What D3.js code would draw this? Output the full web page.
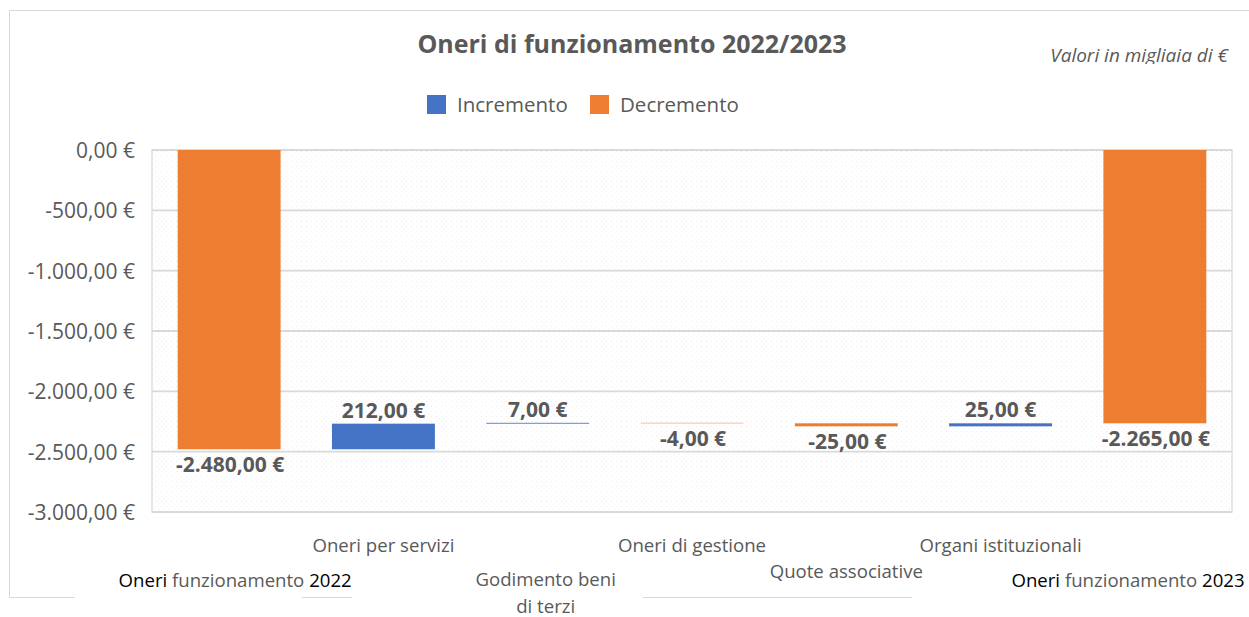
<!DOCTYPE html>
<html>
<head>
<meta charset="utf-8">
<script src="https://cdn.jsdelivr.net/npm/d3@7"></script>
<style>
  html, body { margin: 0; padding: 0; background: #fff; }
  svg { display: block; }
  text { font-family: "Open Sans", sans-serif; }
</style>
</head>
<body>
<script>
// ---- data ----
const categories = ["Oneri funzionamento 2022", "Oneri per servizi", "Godimento beni di terzi", "Oneri di gestione", "Quote associative", "Organi istituzionali", "Oneri funzionamento 2023"];
const changes = [-2480, 212, 7, -4, -25, 25, -2265];
const isTotal = [true, false, false, false, false, false, true];
const yTicks = [0, -500, -1000, -1500, -2000, -2500, -3000];
const legendLabels = ["Incremento", "Decremento"];
const titleText = "Oneri di funzionamento 2022/2023";
const noteText = "Valori in migliaia di €";

const W = 1249, H = 617;
const colors = { up: "#4472C4", down: "#ED7D31" };
const textGrey = "#595959";

const locale = d3.formatLocale({ decimal: ",", thousands: ".", grouping: [3], currency: ["", " €"], minus: "-" });
const fmt = locale.format("$,.2f");

const svg = d3.select("body").append("svg").attr("width", W).attr("height", H);

// pattern
const defs = svg.append("defs");
const pat = defs.append("pattern").attr("id", "dots").attr("width", 5).attr("height", 5).attr("patternUnits", "userSpaceOnUse");
pat.append("rect").attr("width", 5).attr("height", 5).attr("fill", "#ffffff");
pat.append("rect").attr("x", 1).attr("y", 1).attr("width", 1).attr("height", 1).attr("fill", "#ececec");
pat.append("rect").attr("x", 3.5).attr("y", 3.5).attr("width", 1).attr("height", 1).attr("fill", "#f2f2f2");

// outer frame
svg.append("rect").attr("x", 9.5).attr("y", 10.5).attr("width", 1260).attr("height", 587)
  .attr("fill", "#fff").attr("stroke", "#d9d9d9").attr("stroke-width", 1);

const plot = { left: 152, right: 1232, top: 150, bottom: 512 };

const x = d3.scaleBand().domain(categories).range([plot.left, plot.right]).paddingInner(0.333).paddingOuter(0.1665);
const y = d3.scaleLinear().domain([-3000, 0]).range([plot.bottom, plot.top]);

// plot background
svg.append("rect").attr("x", plot.left).attr("y", plot.top).attr("width", plot.right - plot.left).attr("height", plot.bottom - plot.top)
  .attr("fill", "url(#dots)").attr("stroke", "#e0e0e0").attr("stroke-width", 1.5);

// gridlines
svg.append("g").selectAll("line").data(yTicks).join("line")
  .attr("x1", plot.left).attr("x2", plot.right)
  .attr("y1", d => y(d)).attr("y2", d => y(d))
  .attr("stroke", "#d9d9d9").attr("stroke-width", 1.8);

// y axis
const yAxis = d3.axisLeft(y).tickValues(yTicks).tickFormat(fmt).tickSize(0).tickPadding(0);
const yg = svg.append("g").attr("transform", `translate(${plot.left - 17},0)`).call(yAxis);
yg.select(".domain").remove();
yg.selectAll("text").attr("fill", textGrey).style("font-size", "21px").style("font-family", "Open Sans").attr("dy", "0.35em");

// waterfall computation
let running = 0;
const bars = categories.map((c, i) => {
  let y0, y1;
  if (isTotal[i]) { y0 = 0; y1 = changes[i]; running = changes[i]; }
  else { y0 = running; y1 = running + changes[i]; running = y1; }
  return { cat: c, v: changes[i], y0, y1, color: changes[i] >= 0 && !isTotal[i] ? colors.up : colors.down };
});

svg.append("g").selectAll("rect").data(bars).join("rect")
  .attr("x", d => x(d.cat))
  .attr("width", x.bandwidth())
  .attr("y", d => y(Math.max(d.y0, d.y1)))
  .attr("height", d => Math.abs(y(d.y0) - y(d.y1)))
  .attr("fill", d => d.color);

// data labels
svg.append("g").selectAll("text").data(bars).join("text")
  .attr("x", d => x(d.cat) + x.bandwidth() / 2 + (d.v < 0 ? 1 : 0))
  .attr("y", d => d.v >= 0 ? y(Math.max(d.y0, d.y1)) - 6 : y(Math.min(d.y0, d.y1)) + 23)
  .attr("text-anchor", "middle")
  .attr("fill", textGrey)
  .style("font-size", "21px").style("font-weight", "bold")
  .text(d => fmt(d.v));

// title
svg.append("text").attr("x", 632).attr("y", 53).attr("text-anchor", "middle")
  .attr("fill", textGrey).style("font-size", "25px").style("font-weight", "bold").text(titleText);

// note (clipped at bottom)
defs.append("clipPath").attr("id", "noteClip").append("rect").attr("x", 1000).attr("y", 30).attr("width", 249).attr("height", 34);
svg.append("text").attr("x", 1228).attr("y", 62).attr("text-anchor", "end").attr("clip-path", "url(#noteClip)")
  .attr("fill", textGrey).style("font-size", "19px").style("font-style", "italic").text(noteText);

// legend
const legend = svg.append("g");
const legendX = [427, 590];
legendLabels.forEach((l, i) => {
  legend.append("rect").attr("x", legendX[i]).attr("y", 95).attr("width", 19).attr("height", 19)
    .attr("fill", i === 0 ? colors.up : colors.down);
  legend.append("text").attr("x", legendX[i] + 30).attr("y", 112).attr("fill", textGrey)
    .style("font-size", "20.5px").text(l);
});

// white masks over frame bottom
const masks = [[75, 302], [352, 643], [912, 1249]];
svg.append("g").selectAll("rect").data(masks).join("rect")
  .attr("x", d => d[0]).attr("y", 594).attr("width", d => d[1] - d[0]).attr("height", 6).attr("fill", "#fff");

// category labels (staggered)
const labelPos = [
  { dy: 587, lines: null },
  { dy: 552 },
  { dy: 586, lines: ["Godimento beni", "di terzi"] },
  { dy: 552 },
  { dy: 578 },
  { dy: 552 },
  { dy: 587, lines: null }
];
const xl = svg.append("g");
categories.forEach((c, i) => {
  let cx = x(c) + x.bandwidth() / 2;
  if (i === 0) cx += 6;
  if (i === 2) cx += 8;
  if (i === 6) cx = 1128;
  const t = xl.append("text").attr("x", cx).attr("y", labelPos[i].dy).attr("text-anchor", "middle")
    .attr("fill", textGrey).style("font-size", "18.6px");
  if (isTotal[i]) {
    const parts = c.split(" ");
    t.append("tspan").attr("fill", "#000").text(parts[0] + " ");
    t.append("tspan").attr("fill", textGrey).text(parts[1] + " ");
    t.append("tspan").attr("fill", "#000").text(parts[2]);
  } else if (labelPos[i].lines) {
    labelPos[i].lines.forEach((ln, k) => {
      t.append("tspan").attr("x", cx).attr("dy", k === 0 ? 0 : 27).text(ln);
    });
  } else {
    t.text(c);
  }
});
</script>
</body>
</html>
